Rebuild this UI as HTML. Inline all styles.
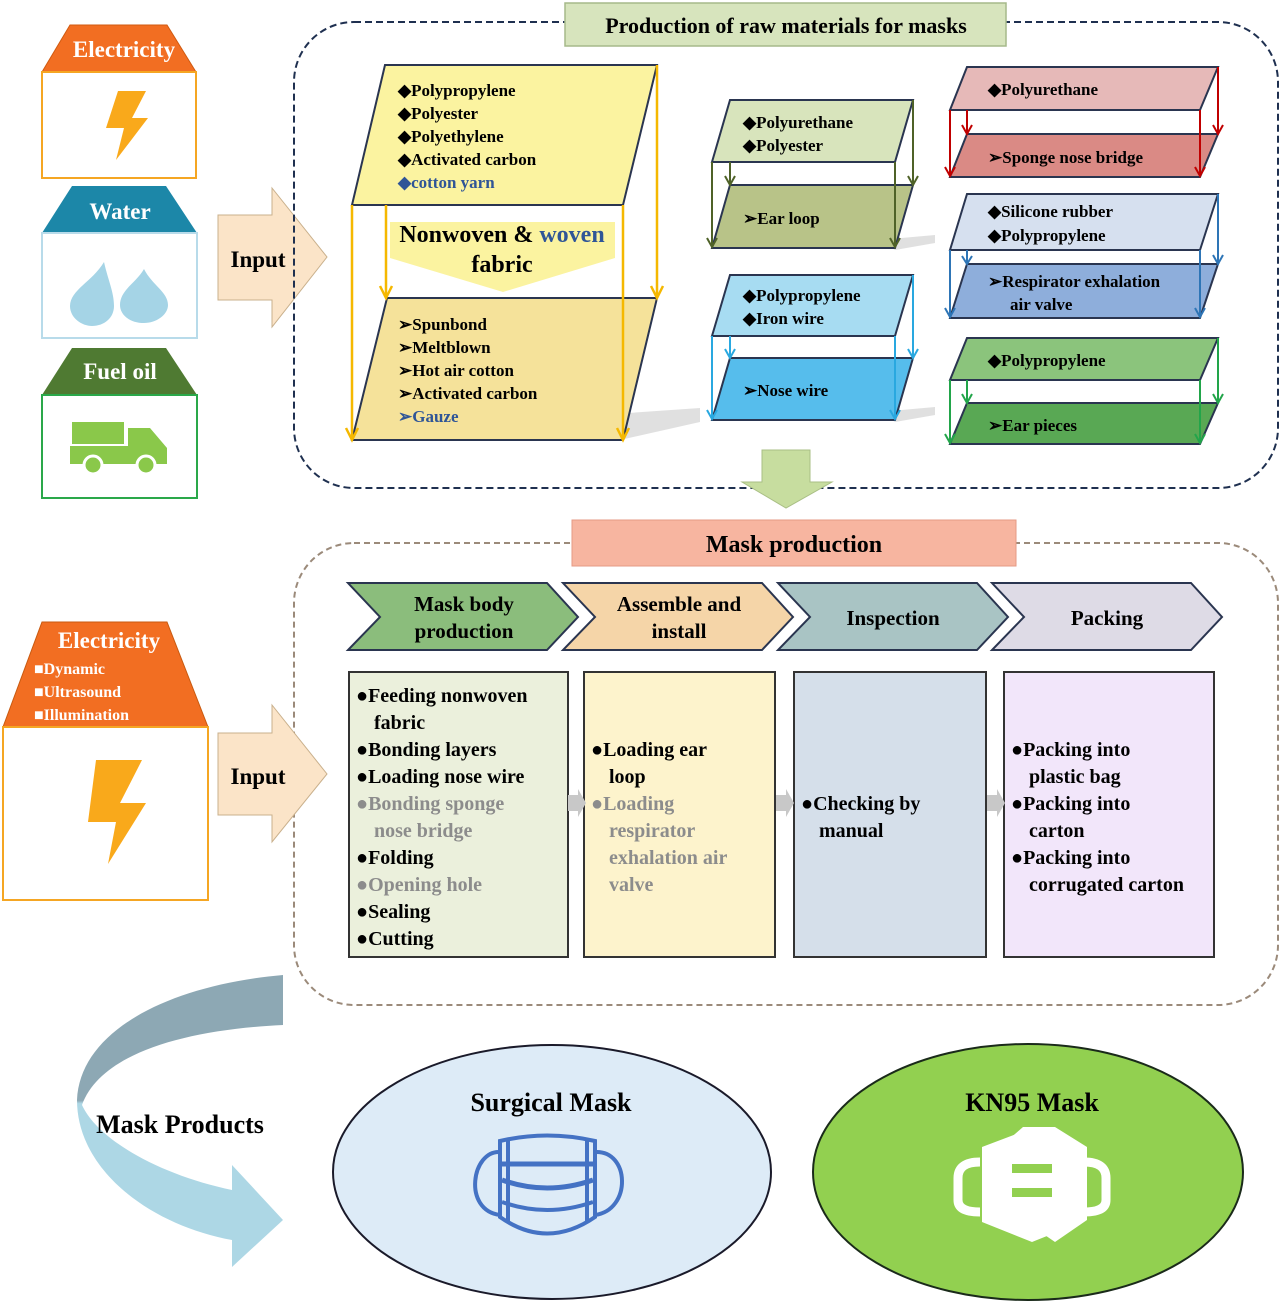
<!DOCTYPE html>
<html><head><meta charset="utf-8"><style>
html,body{margin:0;padding:0;background:#fff}
svg{display:block}
text{font-family:"Liberation Serif",serif;font-weight:bold}
</style></head><body>
<svg width="1280" height="1311" viewBox="0 0 1280 1311" xmlns="http://www.w3.org/2000/svg">
<defs>
<linearGradient id="arc" x1="0" y1="975" x2="0" y2="1267" gradientUnits="userSpaceOnUse">
<stop offset="0" stop-color="#8da8b4"/><stop offset="0.43" stop-color="#8da8b4"/><stop offset="0.44" stop-color="#add7e5"/><stop offset="1" stop-color="#add7e5"/>
</linearGradient>
</defs>

<!-- Left inputs top -->
<polygon points="70,25 167,25 196,72 42,72" fill="#f26e22" stroke="#d05a10"/>
<text x="124" y="57" font-size="23" fill="#fff" text-anchor="middle">Electricity</text>
<rect x="42" y="72" width="154" height="106" fill="#fff" stroke="#f5a623" stroke-width="2"/>
<polygon points="118,91 146,91 132,118 148,118 116,160 124,128 106,128" fill="#f9a91b"/>

<polygon points="72,186 166,186 197,233 42,233" fill="#1c87a8"/>
<text x="120" y="219" font-size="23" fill="#fff" text-anchor="middle">Water</text>
<rect x="42" y="233" width="155" height="105" fill="#fff" stroke="#b8dbea" stroke-width="2"/>
<path d="M104,262 C92,282 70,290 70,306 C70,318 82,326 92,326 C104,326 114,318 114,306 C114,292 108,280 104,262Z" fill="#a5d4e6"/>
<path d="M144,269 C136,283 120,290 120,305 C120,315 130,323 144,323 C156,323 168,315 168,305 C168,292 152,285 144,269Z" fill="#a5d4e6"/>

<polygon points="72,348 166,348 197,395 42,395" fill="#4f7a32"/>
<text x="120" y="379" font-size="23" fill="#fff" text-anchor="middle">Fuel oil</text>
<rect x="42" y="395" width="155" height="103" fill="#fff" stroke="#2aa84a" stroke-width="2"/>
<rect x="72" y="422" width="52" height="22" fill="#8ac84a"/>
<path d="M70,446 L128,446 L128,428 L150,428 L167,448 L167,464 L70,464Z" fill="#8ac84a"/>
<circle cx="93" cy="465" r="9" fill="#8ac84a" stroke="#fff" stroke-width="3"/>
<circle cx="146" cy="465" r="9" fill="#8ac84a" stroke="#fff" stroke-width="3"/>

<!-- Input arrow 1 -->
<polygon points="218,215 272,215 272,188 327,257 272,327 272,300 218,300" fill="#fbe4c8" stroke="#c9b08c"/>
<text x="258" y="267" font-size="23" text-anchor="middle">Input</text>

<!-- Top dashed box -->
<rect x="294" y="22" width="984" height="466" rx="60" fill="none" stroke="#1f3050" stroke-width="2" stroke-dasharray="7,4"/>
<rect x="565" y="3" width="441" height="43" fill="#d7e4bd" stroke="#a5b98a" stroke-width="1.5"/>
<text x="786" y="33" font-size="22" text-anchor="middle">Production of raw materials for masks</text>

<!-- Big yellow -->
<polygon points="600,415 700,408 700,422 620,440" fill="#ccc" opacity="0.6"/>
<polygon points="385,65 657,65 623,205 352,205" fill="#fbf3a0" stroke="#2a3550" stroke-width="2"/>
<polygon points="390,222 615,222 615,258 503,292 390,258" fill="#fbf3a0"/>
<polygon points="387,298 657,298 623,440 352,440" fill="#f5e29a" stroke="#2a3550" stroke-width="2"/>
<g font-size="17">
<text x="398" y="96">◆Polypropylene</text>
<text x="398" y="119">◆Polyester</text>
<text x="398" y="142">◆Polyethylene</text>
<text x="398" y="165">◆Activated carbon</text>
<text x="398" y="188" fill="#2f5597">◆cotton yarn</text>
<text x="398" y="330">➢Spunbond</text>
<text x="398" y="353">➢Meltblown</text>
<text x="398" y="376">➢Hot air cotton</text>
<text x="398" y="399">➢Activated carbon</text>
<text x="398" y="422" fill="#2f5597">➢Gauze</text>
</g>
<text x="502" y="242" font-size="24" text-anchor="middle">Nonwoven &amp; <tspan fill="#2f5597">woven</tspan></text>
<text x="502" y="272" font-size="24" text-anchor="middle">fabric</text>
<g stroke="#f5b800" stroke-width="2.5" fill="none">
<line x1="352" y1="205" x2="352" y2="438"/><polyline points="346,428 352,440 358,428"/>
<line x1="386" y1="205" x2="386" y2="296"/><polyline points="380,286 386,298 392,286"/>
<line x1="623" y1="205" x2="623" y2="438"/><polyline points="617,428 623,440 629,428"/>
<line x1="657" y1="65" x2="657" y2="296"/><polyline points="651,286 657,298 663,286"/>
</g>

<!-- Ear loop -->
<polygon points="880,240 935,235 935,243 895,250" fill="#ccc" opacity="0.6"/>
<polygon points="730,100 913,100 895,162 712,162" fill="#d8e4bc" stroke="#2a3550" stroke-width="2"/>
<polygon points="730,185 913,185 895,248 712,248" fill="#b8c388" stroke="#2a3550" stroke-width="2"/>
<text x="743" y="128" font-size="17">◆Polyurethane</text>
<text x="743" y="151" font-size="17">◆Polyester</text>
<text x="743" y="224" font-size="17">➢Ear loop</text>
<g stroke="#4f6228" stroke-width="2" fill="none">
<line x1="712" y1="162" x2="712" y2="246"/><polyline points="707,238 712,247 717,238"/>
<line x1="730" y1="162" x2="730" y2="184"/><polyline points="725,176 730,185 735,176"/>
<line x1="895" y1="162" x2="895" y2="246"/><polyline points="890,238 895,247 900,238"/>
<line x1="913" y1="100" x2="913" y2="184"/><polyline points="908,176 913,185 918,176"/>
</g>

<!-- Nose wire -->
<polygon points="880,412 935,407 935,415 895,422" fill="#ccc" opacity="0.6"/>
<polygon points="730,275 913,275 895,336 712,336" fill="#a7dcf2" stroke="#2a3550" stroke-width="2"/>
<polygon points="730,358 913,358 895,420 712,420" fill="#56bdec" stroke="#2a3550" stroke-width="2"/>
<text x="743" y="301" font-size="17">◆Polypropylene</text>
<text x="743" y="324" font-size="17">◆Iron wire</text>
<text x="743" y="396" font-size="17">➢Nose wire</text>
<g stroke="#29a8e0" stroke-width="2" fill="none">
<line x1="712" y1="336" x2="712" y2="418"/><polyline points="707,410 712,419 717,410"/>
<line x1="730" y1="336" x2="730" y2="357"/><polyline points="725,349 730,358 735,349"/>
<line x1="895" y1="336" x2="895" y2="418"/><polyline points="890,410 895,419 900,410"/>
<line x1="913" y1="275" x2="913" y2="357"/><polyline points="908,349 913,358 918,349"/>
</g>

<!-- Right column -->
<g font-size="17">
<polygon points="967,67 1218,67 1200,110 950,110" fill="#e6b9b8" stroke="#2a3550" stroke-width="2"/>
<polygon points="967,134 1218,134 1200,177 950,177" fill="#da8a85" stroke="#2a3550" stroke-width="2"/>
<text x="988" y="95">◆Polyurethane</text>
<text x="988" y="163">➢Sponge nose bridge</text>
<g stroke="#c00000" stroke-width="2" fill="none">
<line x1="950" y1="110" x2="950" y2="175"/><polyline points="945,167 950,176 955,167"/>
<line x1="967" y1="110" x2="967" y2="133"/><polyline points="962,125 967,134 972,125"/>
<line x1="1200" y1="110" x2="1200" y2="175"/><polyline points="1195,167 1200,176 1205,167"/>
<line x1="1218" y1="67" x2="1218" y2="133"/><polyline points="1213,125 1218,134 1223,125"/>
</g>

<polygon points="967,194 1218,194 1200,250 950,250" fill="#d6e0ef" stroke="#2a3550" stroke-width="2"/>
<polygon points="967,264 1218,264 1200,318 950,318" fill="#8eaedb" stroke="#2a3550" stroke-width="2"/>
<text x="988" y="217">◆Silicone rubber</text>
<text x="988" y="241">◆Polypropylene</text>
<text x="988" y="287">➢Respirator exhalation</text>
<text x="1010" y="310">air valve</text>
<g stroke="#2e75b6" stroke-width="2" fill="none">
<line x1="950" y1="250" x2="950" y2="316"/><polyline points="945,308 950,317 955,308"/>
<line x1="967" y1="250" x2="967" y2="263"/><polyline points="962,256 967,264 972,256"/>
<line x1="1200" y1="250" x2="1200" y2="316"/><polyline points="1195,308 1200,317 1205,308"/>
<line x1="1218" y1="194" x2="1218" y2="263"/><polyline points="1213,255 1218,264 1223,255"/>
</g>

<polygon points="967,338 1218,338 1200,380 950,380" fill="#8bc47c" stroke="#2a3550" stroke-width="2"/>
<polygon points="967,403 1218,403 1200,444 950,444" fill="#59a854" stroke="#2a3550" stroke-width="2"/>
<text x="988" y="366">◆Polypropylene</text>
<text x="988" y="431">➢Ear pieces</text>
<g stroke="#22a54a" stroke-width="2" fill="none">
<line x1="950" y1="380" x2="950" y2="442"/><polyline points="945,434 950,443 955,434"/>
<line x1="967" y1="380" x2="967" y2="402"/><polyline points="962,394 967,403 972,394"/>
<line x1="1200" y1="380" x2="1200" y2="442"/><polyline points="1195,434 1200,443 1205,434"/>
<line x1="1218" y1="338" x2="1218" y2="402"/><polyline points="1213,394 1218,403 1223,394"/>
</g>
</g>

<!-- Down arrow -->
<polygon points="762,450 810,450 810,482 832,482 786,508 742,482 762,482" fill="#c7dd9f" stroke="#a9bf85"/>

<!-- Mask production -->
<rect x="294" y="543" width="984" height="462" rx="60" fill="none" stroke="#9b8a7a" stroke-width="2" stroke-dasharray="6,4"/>
<rect x="572" y="520" width="444" height="46" fill="#f7b5a0" stroke="#e59a84"/>
<text x="794" y="552" font-size="24" text-anchor="middle">Mask production</text>

<g stroke="#2a3550" stroke-width="2">
<polygon points="348,583 547,583 578,617 547,650 348,650 380,617" fill="#8bbd7c"/>
<polygon points="563,583 762,583 793,617 762,650 563,650 595,617" fill="#f5d5a8"/>
<polygon points="778,583 977,583 1008,617 977,650 778,650 810,617" fill="#a9c4c4"/>
<polygon points="992,583 1191,583 1222,617 1191,650 992,650 1024,617" fill="#dedbe6"/>
</g>
<g font-size="21" text-anchor="middle">
<text x="464" y="611">Mask body</text>
<text x="464" y="638">production</text>
<text x="679" y="611">Assemble and</text>
<text x="679" y="638">install</text>
<text x="893" y="625">Inspection</text>
<text x="1107" y="625">Packing</text>
</g>

<g stroke="#333" stroke-width="2">
<rect x="349" y="672" width="219" height="285" fill="#ebf0dc"/>
<rect x="584" y="672" width="191" height="285" fill="#fdf3cc"/>
<rect x="794" y="672" width="192" height="285" fill="#d5dfea"/>
<rect x="1004" y="672" width="210" height="285" fill="#f2e6fa"/>
</g>
<g fill="#c8c8c8">
<polygon points="568,795 578,795 578,789 586,803 578,817 578,811 568,811"/>
<polygon points="776,795 786,795 786,789 794,803 786,817 786,811 776,811"/>
<polygon points="987,795 997,795 997,789 1005,803 997,817 997,811 987,811"/>
</g>
<g font-size="20">
<text x="356" y="702">●Feeding nonwoven</text>
<text x="374" y="729">fabric</text>
<text x="356" y="756">●Bonding layers</text>
<text x="356" y="783">●Loading nose wire</text>
<text x="356" y="810" fill="#8c8c8c">●Bonding sponge</text>
<text x="374" y="837" fill="#8c8c8c">nose bridge</text>
<text x="356" y="864">●Folding</text>
<text x="356" y="891" fill="#8c8c8c">●Opening hole</text>
<text x="356" y="918">●Sealing</text>
<text x="356" y="945">●Cutting</text>

<text x="591" y="756">●Loading ear</text>
<text x="609" y="783">loop</text>
<text x="591" y="810" fill="#8c8c8c">●Loading</text>
<text x="609" y="837" fill="#8c8c8c">respirator</text>
<text x="609" y="864" fill="#8c8c8c">exhalation air</text>
<text x="609" y="891" fill="#8c8c8c">valve</text>

<text x="801" y="810">●Checking by</text>
<text x="819" y="837">manual</text>

<text x="1011" y="756">●Packing into</text>
<text x="1029" y="783">plastic bag</text>
<text x="1011" y="810">●Packing into</text>
<text x="1029" y="837">carton</text>
<text x="1011" y="864">●Packing into</text>
<text x="1029" y="891">corrugated carton</text>
</g>

<!-- Electricity bottom-left -->
<polygon points="42,622 167,622 208,727 3,727" fill="#f26e22" stroke="#c85a10"/>
<text x="109" y="648" font-size="23" fill="#fff" text-anchor="middle">Electricity</text>
<g font-size="16" fill="#fff">
<text x="34" y="674">■Dynamic</text>
<text x="34" y="697">■Ultrasound</text>
<text x="34" y="720">■Illumination</text>
</g>
<rect x="3" y="727" width="205" height="173" fill="#fff" stroke="#f5a623" stroke-width="2"/>
<polygon points="96,760 142,760 120,803 146,803 108,864 116,822 88,822" fill="#f9a91b"/>

<polygon points="218,733 272,733 272,705 327,774 272,842 272,815 218,815" fill="#fbe4c8" stroke="#c9b08c"/>
<text x="258" y="784" font-size="23" text-anchor="middle">Input</text>

<!-- Curved arrow -->
<path d="M283,975 C170,985 80,1030 77,1100 C77,1170 150,1225 232,1240 L232,1267 L283,1220 L232,1165 L232,1190 C160,1175 98,1140 82,1105 C100,1055 180,1030 283,1025 Z" fill="url(#arc)"/>
<text x="180" y="1133" font-size="26" text-anchor="middle">Mask Products</text>

<!-- Ellipses -->
<ellipse cx="552" cy="1172" rx="219" ry="127" fill="#ddebf7" stroke="#1a1a2a" stroke-width="2"/>
<text x="551" y="1111" font-size="26" text-anchor="middle">Surgical Mask</text>
<g fill="none" stroke="#4472c4" stroke-width="4">
<path d="M500,1141 Q547,1130 595,1141 L595,1217 Q547,1250 500,1217 Z"/>
<line x1="508" y1="1141" x2="508" y2="1222"/>
<line x1="587" y1="1141" x2="587" y2="1222"/>
<path d="M500,1152 C472,1150 462,1210 500,1215"/>
<path d="M595,1152 C630,1150 632,1210 595,1215"/>
</g>
<line x1="502" y1="1164" x2="593" y2="1164" stroke="#4472c4" stroke-width="5"/>
<path d="M502,1180 Q547,1196 593,1180" fill="none" stroke="#4472c4" stroke-width="5"/>
<path d="M502,1202 Q547,1218 593,1202" fill="none" stroke="#4472c4" stroke-width="4"/>

<ellipse cx="1028" cy="1172" rx="215" ry="128" fill="#92d050" stroke="#1a2a1a" stroke-width="2"/>
<text x="1032" y="1111" font-size="26" text-anchor="middle">KN95 Mask</text>
<path d="M1055,1127 L1087,1147 L1087,1220 L1055,1242 L1023,1220 L1000,1220 L1000,1147 L1023,1127 Z" fill="#fff"/>
<path d="M1032,1128 L1082,1147 L1082,1222 L1032,1242 L982,1222 L982,1147 Z" fill="#fff"/>
<path d="M980,1162 Q958,1162 958,1178 L958,1200 Q958,1212 980,1212" fill="none" stroke="#fff" stroke-width="9"/>
<path d="M1084,1162 Q1106,1162 1106,1178 L1106,1200 Q1106,1212 1084,1212" fill="none" stroke="#fff" stroke-width="9"/>
<rect x="1012" y="1164" width="40" height="9" fill="#92d050"/>
<rect x="1012" y="1188" width="40" height="9" fill="#92d050"/>
</svg>
</body></html>
